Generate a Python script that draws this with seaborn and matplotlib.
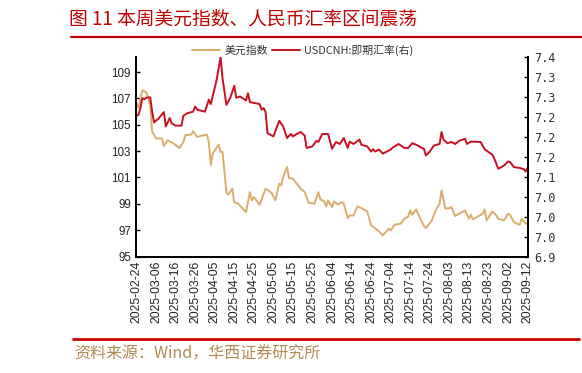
import matplotlib
matplotlib.use("Agg")
import matplotlib.pyplot as plt
import matplotlib.dates as mdates
from matplotlib.ticker import FixedLocator, FuncFormatter
import seaborn as sns
import pandas as pd
import numpy as np

sns.set_theme(style="white")
plt.rcParams['font.family'] = ['Noto Sans CJK SC', 'DejaVu Sans']
plt.rcParams['axes.unicode_minus'] = False

# ---------------- data ----------------
dxy_dates = [
    "2025-02-24", "2025-02-25", "2025-02-26", "2025-02-27", "2025-03-01", "2025-03-02",
    "2025-03-03", "2025-03-04", "2025-03-05", "2025-03-06", "2025-03-09", "2025-03-10",
    "2025-03-12", "2025-03-15", "2025-03-18", "2025-03-20", "2025-03-21", "2025-03-24",
    "2025-03-25", "2025-03-27", "2025-03-29", "2025-04-01", "2025-04-02", "2025-04-03",
    "2025-04-04", "2025-04-07", "2025-04-08", "2025-04-09", "2025-04-11", "2025-04-12",
    "2025-04-14", "2025-04-15", "2025-04-17", "2025-04-21", "2025-04-23", "2025-04-24",
    "2025-04-25", "2025-04-28", "2025-05-01", "2025-05-04", "2025-05-06", "2025-05-08",
    "2025-05-09", "2025-05-10", "2025-05-12", "2025-05-13", "2025-05-15", "2025-05-16",
    "2025-05-19", "2025-05-21", "2025-05-23", "2025-05-26", "2025-05-28", "2025-05-29",
    "2025-05-31", "2025-06-01", "2025-06-02", "2025-06-04", "2025-06-05", "2025-06-07",
    "2025-06-09", "2025-06-10", "2025-06-12", "2025-06-13", "2025-06-15", "2025-06-17",
    "2025-06-19", "2025-06-22", "2025-06-24", "2025-06-26", "2025-06-28", "2025-06-30",
    "2025-07-03", "2025-07-04", "2025-07-06", "2025-07-09", "2025-07-11", "2025-07-13",
    "2025-07-14", "2025-07-15", "2025-07-17", "2025-07-19", "2025-07-21", "2025-07-22",
    "2025-07-25", "2025-07-27", "2025-07-29", "2025-07-30", "2025-08-01", "2025-08-03",
    "2025-08-04", "2025-08-06", "2025-08-08", "2025-08-11", "2025-08-13", "2025-08-14",
    "2025-08-15", "2025-08-17", "2025-08-20", "2025-08-21", "2025-08-22", "2025-08-25",
    "2025-08-27", "2025-08-28", "2025-08-31", "2025-09-02", "2025-09-03", "2025-09-05",
    "2025-09-08", "2025-09-09", "2025-09-11", "2025-09-12",
]
dxy_values = [
    106.62, 106.29, 107.00, 107.63, 107.46, 107.05,
    106.49, 104.46, 104.26, 103.96, 103.96, 103.39,
    103.83, 103.58, 103.24, 103.70, 104.21, 104.26,
    104.51, 104.08, 104.16, 104.26, 103.70, 101.93,
    102.82, 103.50, 102.94, 102.94, 99.85, 99.70,
    100.15, 99.13, 99.01, 98.37, 99.89, 99.26,
    99.51, 98.93, 100.15, 99.85, 99.26, 100.53,
    100.40, 101.03, 101.80, 100.96, 100.91, 100.71,
    100.15, 99.89, 99.09, 99.01, 99.89, 99.34,
    99.19, 98.81, 99.26, 98.75, 99.19, 98.93,
    99.13, 99.01, 97.91, 98.12, 98.12, 98.81,
    98.68, 98.42, 97.36, 97.15, 96.90, 96.60,
    97.11, 96.98, 97.41, 97.49, 97.87, 98.04,
    98.50, 98.17, 98.58, 97.91, 97.31, 97.15,
    97.74, 98.50, 99.01, 100.02, 98.63, 98.68,
    98.75, 98.07, 98.25, 98.50, 97.87, 98.17,
    97.82, 97.99, 98.25, 98.58, 97.74, 98.42,
    98.12, 97.87, 97.74, 98.25, 98.17, 97.61,
    97.41, 97.87, 97.49, 97.56,
]

cnh_dates = [
    "2025-02-24", "2025-02-25", "2025-02-26", "2025-02-27", "2025-02-28", "2025-03-01",
    "2025-03-03", "2025-03-04", "2025-03-05", "2025-03-06", "2025-03-07", "2025-03-10",
    "2025-03-11", "2025-03-13", "2025-03-14", "2025-03-16", "2025-03-19", "2025-03-20",
    "2025-03-22", "2025-03-25", "2025-03-26", "2025-03-27", "2025-03-31", "2025-04-02",
    "2025-04-03", "2025-04-06", "2025-04-08", "2025-04-09", "2025-04-11", "2025-04-13",
    "2025-04-15", "2025-04-16", "2025-04-18", "2025-04-21", "2025-04-22", "2025-04-23",
    "2025-04-26", "2025-04-28", "2025-04-29", "2025-04-30", "2025-05-01", "2025-05-02",
    "2025-05-05", "2025-05-08", "2025-05-10", "2025-05-12", "2025-05-14", "2025-05-15",
    "2025-05-17", "2025-05-19", "2025-05-21", "2025-05-22", "2025-05-25", "2025-05-27",
    "2025-05-28", "2025-05-30", "2025-06-02", "2025-06-04", "2025-06-06", "2025-06-08",
    "2025-06-10", "2025-06-12", "2025-06-13", "2025-06-15", "2025-06-18", "2025-06-19",
    "2025-06-22", "2025-06-24", "2025-06-25", "2025-06-26", "2025-06-28", "2025-06-30",
    "2025-07-02", "2025-07-04", "2025-07-05", "2025-07-08", "2025-07-11", "2025-07-13",
    "2025-07-15", "2025-07-17", "2025-07-20", "2025-07-21", "2025-07-22", "2025-07-24",
    "2025-07-26", "2025-07-29", "2025-07-30", "2025-07-31", "2025-08-02", "2025-08-04",
    "2025-08-06", "2025-08-08", "2025-08-11", "2025-08-12", "2025-08-14", "2025-08-19",
    "2025-08-20", "2025-08-21", "2025-08-25", "2025-08-26", "2025-08-28", "2025-08-31",
    "2025-09-02", "2025-09-03", "2025-09-05", "2025-09-08", "2025-09-10", "2025-09-11",
    "2025-09-12",
]
cnh_values = [
    7.253, 7.255, 7.272, 7.297, 7.294, 7.298,
    7.299, 7.263, 7.236, 7.241, 7.244, 7.262,
    7.226, 7.247, 7.234, 7.228, 7.228, 7.253,
    7.259, 7.263, 7.276, 7.268, 7.263, 7.293,
    7.282, 7.343, 7.400, 7.347, 7.280, 7.298,
    7.328, 7.298, 7.301, 7.291, 7.309, 7.287,
    7.284, 7.282, 7.268, 7.272, 7.263, 7.209,
    7.201, 7.240, 7.226, 7.197, 7.207, 7.201,
    7.207, 7.212, 7.203, 7.172, 7.176, 7.190,
    7.187, 7.207, 7.207, 7.170, 7.187, 7.182,
    7.197, 7.172, 7.188, 7.182, 7.193, 7.180,
    7.176, 7.163, 7.169, 7.163, 7.168, 7.158,
    7.163, 7.168, 7.173, 7.182, 7.172, 7.172,
    7.184, 7.180, 7.172, 7.170, 7.153, 7.163,
    7.178, 7.182, 7.212, 7.193, 7.184, 7.187,
    7.182, 7.190, 7.195, 7.182, 7.188, 7.187,
    7.178, 7.169, 7.155, 7.145, 7.120, 7.128,
    7.138, 7.137, 7.124, 7.122, 7.119, 7.113,
    7.122,
]

left_ticks = [95, 97, 99, 101, 103, 105, 107, 109]
right_ticks = [6.90, 6.95, 7.00, 7.05, 7.10, 7.15, 7.20, 7.25, 7.30, 7.35, 7.40]
x_start, x_end = "2025-02-24", "2025-09-12"

title_text = "图 11 本周美元指数、人民币汇率区间震荡"
source_text = "资料来源：Wind，华西证券研究所"
label_dxy = "美元指数"
label_cnh = "USDCNH:即期汇率(右)"

# ---------------- styling ----------------
TAN = "#D9AE6C"
RED = "#C8101E"
TITLE_RED = "#C00000"

dxy_df = pd.DataFrame({"date": pd.to_datetime(dxy_dates), "value": dxy_values})
cnh_df = pd.DataFrame({"date": pd.to_datetime(cnh_dates), "value": cnh_values})

fig = plt.figure(figsize=(5.82, 3.73), dpi=100)
ax = fig.add_axes([0.2345, 0.3123, 0.6720, 0.5349])
ax2 = ax.twinx()

sns.lineplot(data=dxy_df, x="date", y="value", ax=ax, color=TAN, linewidth=1.4,
             label=label_dxy, legend=False)
sns.lineplot(data=cnh_df, x="date", y="value", ax=ax2, color=RED, linewidth=1.4,
             label=label_cnh, legend=False)

ax.set_xlim(pd.Timestamp(x_start), pd.Timestamp(x_end))
ax.set_ylim(95, 110.15)
ax2.set_ylim(6.9, 7.4)

ax.set_xlabel("")
ax.set_ylabel("")
ax2.set_ylabel("")

xt = pd.date_range(x_start, x_end, freq="10D")
ax.xaxis.set_major_locator(FixedLocator(mdates.date2num(xt)))
ax.xaxis.set_major_formatter(mdates.DateFormatter("%Y-%m-%d"))
ax.yaxis.set_major_locator(FixedLocator(left_ticks))
ax2.yaxis.set_major_locator(FixedLocator(right_ticks))
ax2.yaxis.set_major_formatter(FuncFormatter(lambda v, p: f"{v:.1f}"))

for a in (ax, ax2):
    a.grid(False)
    a.set_facecolor("none")
    for s in ("left", "right", "bottom"):
        a.spines[s].set_visible(True)
        a.spines[s].set_color("black")
        a.spines[s].set_linewidth(1.3)
    a.spines["top"].set_visible(False)

ax.tick_params(axis="x", direction="in", length=3, width=1, color="black",
               labelsize=8.8, labelrotation=90, pad=3, labelcolor="#222222")
ax.tick_params(axis="y", direction="in", length=3, width=1, color="black",
               labelsize=8.4, pad=4, labelcolor="#222222", left=True)
ax2.tick_params(axis="y", direction="in", length=3, width=1, color="black",
                labelsize=8.6, pad=5, labelcolor="#333333", right=True)
for lab in ax.get_xticklabels() + ax.get_yticklabels():
    lab.set_family(["Liberation Sans", "DejaVu Sans"])
for lab in ax2.get_yticklabels():
    lab.set_family(["DejaVu Sans Mono", "DejaVu Sans"])

# legend
h1, l1 = ax.get_legend_handles_labels()
h2, l2 = ax2.get_legend_handles_labels()
leg = fig.legend(h1 + h2, l1 + l2, loc="center", bbox_to_anchor=(0.52, 0.866),
                 ncol=2, frameon=False, fontsize=7.8, handlelength=2.6,
                 handletextpad=0.4, columnspacing=0.4, borderaxespad=0)
for t in leg.get_texts():
    t.set_color("#333333")

# title and rules
fig.text(0.118, 0.948, title_text, color=TITLE_RED, fontsize=13.5,
         ha="left", va="center")
fig.add_artist(plt.Line2D([0.122, 1.0], [0.900, 0.900], color=TITLE_RED,
                          linewidth=1.6, transform=fig.transFigure))
fig.add_artist(plt.Line2D([0.125, 0.994], [0.091, 0.091], color="#CC0000",
                          linewidth=2.0, transform=fig.transFigure))
fig.text(0.127, 0.050, source_text, color="#B08A50", fontsize=11.5,
         ha="left", va="center")

fig.savefig("out.png", dpi=100)
